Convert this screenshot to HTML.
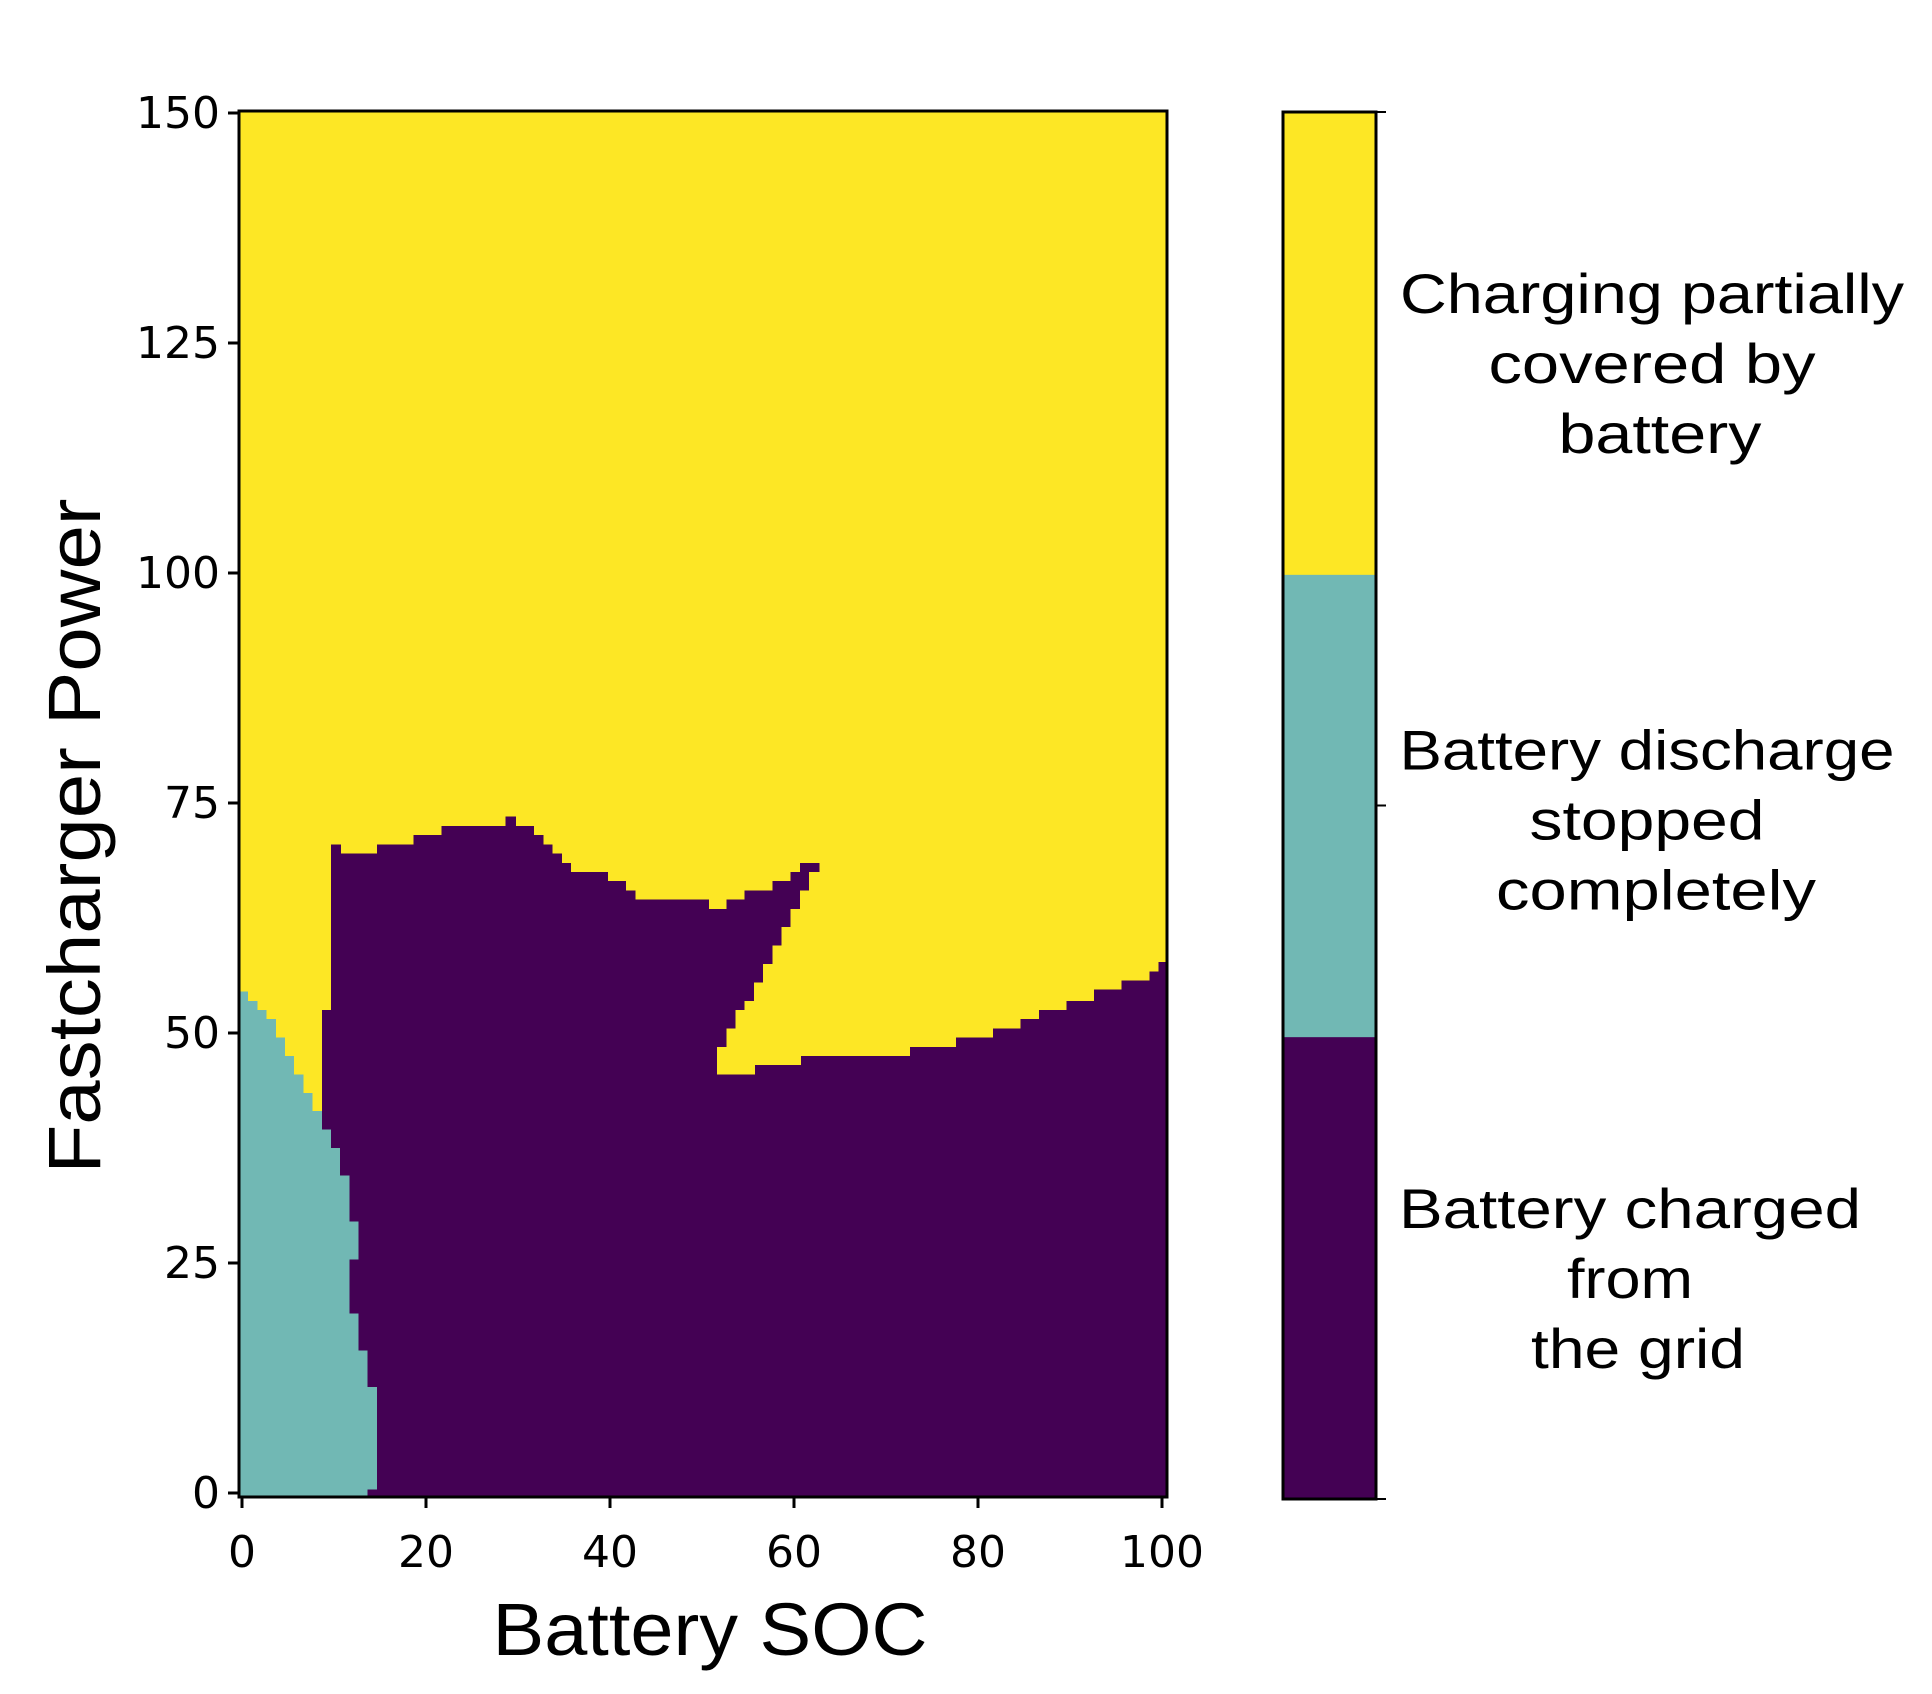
<!DOCTYPE html>
<html>
<head>
<meta charset="utf-8">
<style>
  html, body { margin: 0; padding: 0; background: #fff; }
  svg { display: block; }
  text { font-family: "DejaVu Sans", "Liberation Sans", sans-serif; fill: #000; }
  .lbl { font-family: "Liberation Sans", sans-serif; }
</style>
</head>
<body>
<svg id="chart" width="1932" height="1694" viewBox="0 0 1932 1694" xmlns="http://www.w3.org/2000/svg">
  <rect x="0" y="0" width="1932" height="1694" fill="#fff"/>
  <g id="heat" shape-rendering="crispEdges"></g>
  <g id="axes"></g>
  <g id="cbar"></g>
  <text class="lbl" x="710" y="1655" font-size="74" text-anchor="middle" textLength="435" lengthAdjust="spacingAndGlyphs">Battery SOC</text>
  <text class="lbl" x="0" y="0" font-size="74" text-anchor="middle" textLength="675" lengthAdjust="spacingAndGlyphs" transform="translate(100,836) rotate(-90)">Fastcharger Power</text>
</svg>
<script>
// ---- data ----
const xTicks = [0, 20, 40, 60, 80, 100];
const yTicks = [0, 25, 50, 75, 100, 125, 150];
// top edge of purple region per SOC column 0..100 (0 = no purple)
const purpleTop = [
  0,0,0,0,0,0,0,0,0, 52.5,
  70.5, 69.5,69.5,69.5,69.5, 70.5,70.5,70.5,70.5, 71.5,71.5,71.5,
  72.5,72.5,72.5,72.5,72.5,72.5,72.5, 73.5, 72.5,72.5, 71.5, 70.5, 69.5, 68.5,
  67.5,67.5,67.5,67.5, 66.5,66.5, 65.5,
  64.5,64.5,64.5,64.5,64.5,64.5,64.5,64.5,
  63.5,63.5, 64.5,64.5, 65.5,65.5,65.5, 66.5,66.5, 67.5, 68.5,68.5,
  47.5,47.5,47.5,47.5,47.5,47.5,47.5,47.5,47.5,47.5,
  48.5,48.5,48.5,48.5,48.5, 49.5,49.5,49.5,49.5, 50.5,50.5,50.5, 51.5,51.5,
  52.5,52.5,52.5, 53.5,53.5,53.5, 54.7,54.7,54.7, 55.7,55.7,55.7, 56.7, 57.7
];
// yellow wedge inside purple: columns, lower and upper power edges
const wedgeCols = [52, 53, 54, 55, 56, 57, 58, 59, 60, 61, 62];
const wedgeLow  = [45.5, 45.5, 45.5, 45.5, 46.5, 46.5, 46.5, 46.5, 46.5, 47.5, 47.5];
const wedgeHigh = [48.5, 50.5, 52.5, 53.5, 55.5, 57.5, 59.5, 61.5, 63.5, 65.5, 67.5];
// number of teal SOC columns for each power row 0..54
const tealCount = [14, 15,15,15,15,15,15,15,15,15,15,15, 14,14,14,14, 13,13,13,13,
  12,12,12,12,12,12, 13,13,13,13, 12,12,12,12,12, 11,11,11, 10,10, 9,9, 8,8, 7,7, 6,6, 5,5, 4,4, 3, 2, 1];
const cbarClasses = ["Battery charged|from|the grid", "Battery discharge|stopped|completely", "Charging partially|covered by|battery"];
const cbarColors = ["#440154", "#71b8b4", "#fde725"];
const cbarLineWidths = [[462, 126, 214], [495, 235, 320], [504, 327, 203]];
const cbarLineCx = [[1630, 1630, 1638], [1647, 1647, 1656], [1652, 1652, 1660]];

// ---- axes functions ----
const X0 = 239, X1 = 1167, Y0 = 111, Y1 = 1497;
const xDomLo = -0.33, xDomHi = 100.6;
const yDomLo = -0.43, yDomHi = 150.2;
function x(v) { return X0 + (v - xDomLo) / (xDomHi - xDomLo) * (X1 - X0); }
function y(v) { return Y1 - (v - yDomLo) / (yDomHi - yDomLo) * (Y1 - Y0); }
const NS = "http://www.w3.org/2000/svg";
function mk(tag, attrs, parent) {
  const e = document.createElementNS(NS, tag);
  for (const k in attrs) e.setAttribute(k, attrs[k]);
  parent.appendChild(e);
  return e;
}
const heat = document.getElementById('heat');
const axes = document.getElementById('axes');
const cbar = document.getElementById('cbar');

let bg = mk('rect', {x: X0, y: Y0, width: X1 - X0, height: Y1 - Y0, fill: '#fde725'}, heat);



purpleTop.forEach((top, c) => {
  if (top <= 0) return;
  const x0 = x(c - 0.33), x1 = x(c + 0.67);
  const r = mk('rect', {x: x0, y: y(top), width: x1 - x0 + 1, height: Y1 - y(top), fill: '#440154'}, heat);
  
  
});
wedgeCols.forEach((c, i) => {
  const x0 = x(c - 0.33), x1 = x(c + 0.67);
  const last = (i === wedgeCols.length - 1);
  const r = mk('rect', {x: x0, y: y(wedgeHigh[i]), width: x1 - x0 + (last ? 2 : 1), height: y(wedgeLow[i]) - y(wedgeHigh[i]), fill: '#fde725'}, heat);
  
  
});
tealCount.forEach((n, row) => {
  const lo = row === 0 ? yDomLo : row - 0.5;
  const hi = row + 0.5;
  const x1 = x(n - 0.33);
  const r = mk('rect', {x: X0, y: y(hi), width: x1 - X0, height: y(lo) - y(hi) + 1, fill: '#71b8b4'}, heat);
  
  
});

let fr = mk('rect', {x: X0, y: Y0, width: X1 - X0, height: Y1 - Y0, fill: 'none', stroke: '#000', 'stroke-width': 3}, axes);



xTicks.forEach(t => {
  const px = 242 + t * 9.2;
  const l = mk('line', {x1: px, y1: Y1, x2: px, y2: Y1 + 11, stroke: '#000', 'stroke-width': 3}, axes);
  
  
  const tx = mk('text', {x: px, y: 1567, 'font-size': 44, 'text-anchor': 'middle'}, axes);
  tx.textContent = String(t);
  
  
});
yTicks.forEach(t => {
  const py = 1493 - t * 9.2;
  const l = mk('line', {x1: X0 - 11, y1: py, x2: X0, y2: py, stroke: '#000', 'stroke-width': 3}, axes);
  
  
  const tx = mk('text', {x: 220, y: py + 15, 'font-size': 44, 'text-anchor': 'end'}, axes);
  tx.textContent = String(t);
  
  
});

const CX0 = 1283, CX1 = 1376, CY0 = 112, CY1 = 1499;
const segH = (CY1 - CY0) / cbarClasses.length;
const shiftY = [10, 14, 20];
cbarClasses.forEach((lab, i) => {
  const top = CY1 - (i + 1) * segH;
  const r = mk('rect', {x: CX0, y: top, width: CX1 - CX0, height: segH + 0.5, fill: cbarColors[i]}, cbar);
  
  
  const lines = lab.split('|');
  const mid = top + segH / 2;
  lines.forEach((ln, j) => {
    const t = mk('text', {class: 'lbl', x: cbarLineCx[i][j], y: mid - 70 + j * 70 + 20 + shiftY[i], 'font-size': 56, 'text-anchor': 'middle', textLength: cbarLineWidths[i][j], lengthAdjust: 'spacingAndGlyphs'}, cbar);
    t.textContent = ln;
    
    
  });
});
let cf = mk('rect', {x: CX0, y: CY0, width: CX1 - CX0, height: CY1 - CY0, fill: 'none', stroke: '#000', 'stroke-width': 3}, cbar);


[CY0, (CY0 + CY1) / 2, CY1].forEach(py => {
  const l = mk('line', {x1: CX1, y1: py, x2: CX1 + 10, y2: py, stroke: '#000', 'stroke-width': 2}, cbar);
  
  
});
</script>
</body>
</html>
